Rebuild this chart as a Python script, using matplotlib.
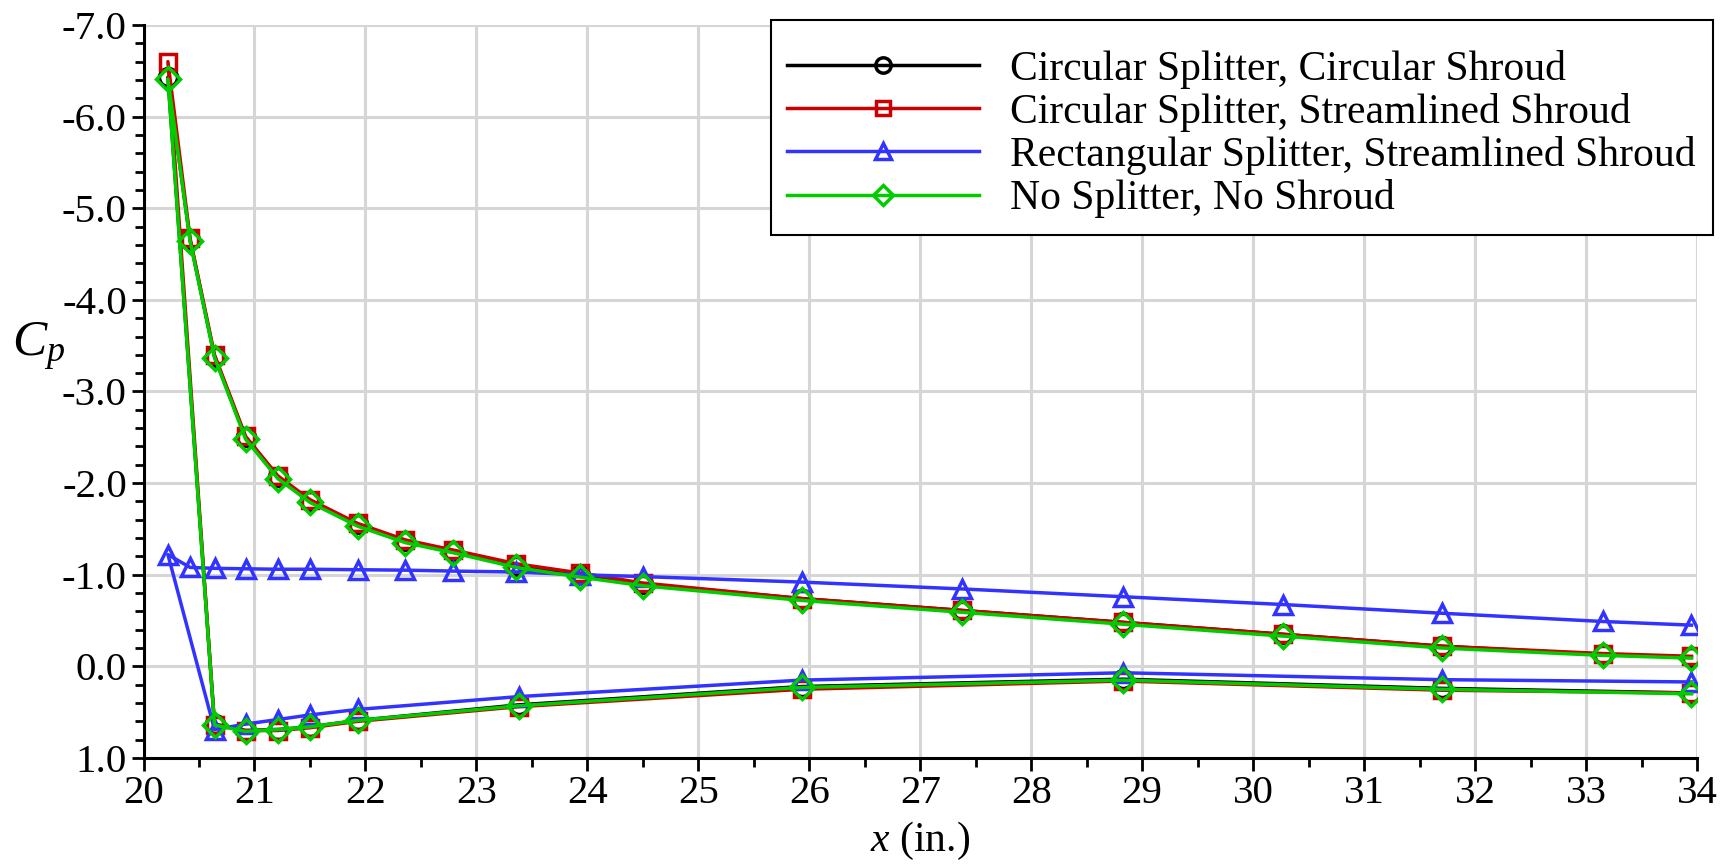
import matplotlib
matplotlib.use("Agg")
import matplotlib.pyplot as plt
from matplotlib.ticker import MultipleLocator, FormatStrFormatter

plt.rcParams["font.family"] = ["Liberation Serif", "DejaVu Serif"]
plt.rcParams["mathtext.fontset"] = "custom"
plt.rcParams["mathtext.rm"] = "Liberation Serif"
plt.rcParams["mathtext.it"] = "Liberation Serif:italic"
plt.rcParams["axes.unicode_minus"] = False

# Pressure-tap stations: lower surface (aft -> nose), nose tap, upper surface (nose -> aft)
x_taps = [33.95, 31.70, 28.83, 25.93, 23.38, 21.93, 21.50, 21.21, 20.92, 20.64,
          20.22,
          20.42, 20.64, 20.92, 21.21, 21.50, 21.93, 22.36, 22.79, 23.36, 23.93,
          24.50, 25.93, 27.38, 28.83, 30.27, 31.70, 33.15, 33.95]

cp_circ_circ = [0.29, 0.24, 0.14, 0.22, 0.42, 0.59, 0.66, 0.69, 0.70, 0.63,
                -6.43,
                -4.65, -3.38, -2.50, -2.07, -1.80, -1.55, -1.37, -1.26, -1.10, -1.00,
                -0.90, -0.74, -0.61, -0.48, -0.35, -0.22, -0.13, -0.10]

cp_circ_stream = [0.29, 0.26, 0.16, 0.25, 0.44, 0.60, 0.67, 0.70, 0.70, 0.64,
                  -6.60,
                  -4.67, -3.40, -2.51, -2.08, -1.82, -1.56, -1.38, -1.27, -1.12, -1.02,
                  -0.91, -0.74, -0.61, -0.48, -0.35, -0.22, -0.14, -0.11]

cp_rect_stream = [0.17, 0.145, 0.07, 0.15, 0.33, 0.47, 0.53, 0.58, 0.63, 0.69,
                  -1.22,
                  -1.08, -1.07, -1.065, -1.06, -1.06, -1.055, -1.05, -1.04, -1.03, -1.00,
                  -0.98, -0.92, -0.845, -0.76, -0.675, -0.58, -0.49, -0.45]

cp_none = [0.30, 0.25, 0.15, 0.23, 0.43, 0.59, 0.66, 0.69, 0.71, 0.64,
           -6.41,
           -4.64, -3.37, -2.48, -2.05, -1.79, -1.53, -1.35, -1.24, -1.08, -0.975,
           -0.88, -0.72, -0.59, -0.46, -0.33, -0.20, -0.12, -0.09]

labels = ["Circular Splitter, Circular Shroud",
          "Circular Splitter, Streamlined Shroud",
          "Rectangular Splitter, Streamlined Shroud",
          "No Splitter, No Shroud"]
series = [cp_circ_circ, cp_circ_stream, cp_rect_stream, cp_none]
colors = ["#000000", "#CC0000", "#3333FF", "#00CC00"]
markers = ["o", "s", "^", "D"]
msizes = [13, 11.5, 13.5, 12]

x_ticks = list(range(20, 35))
y_ticks = [1.0, 0.0, -1.0, -2.0, -3.0, -4.0, -5.0, -6.0, -7.0]

fig = plt.figure(figsize=(17.3, 8.64), dpi=100)
ax = fig.add_axes([0.08295, 0.12269, 0.98092 - 0.08295, 0.97106 - 0.12269])

for cp, lab, c, m, ms in zip(series, labels, colors, markers, msizes):
    ax.plot(x_taps, cp, color=c, lw=2.5, marker=m, ms=ms, mfc="none",
            mec=c, mew=2.5, label=lab)

ax.set_xlim(20, 34)
ax.set_ylim(1.0, -7.0)
ax.set_xticks(x_ticks)
ax.set_yticks(y_ticks)
ax.xaxis.set_minor_locator(MultipleLocator(0.5))
ax.yaxis.set_minor_locator(MultipleLocator(0.2))
ax.yaxis.set_major_formatter(FormatStrFormatter("%.1f"))

ax.grid(True, which="major", color="#D6D6D6", lw=2.2)
ax.set_axisbelow(True)
for s in ("top", "right"):
    ax.spines[s].set_visible(False)
for s in ("left", "bottom"):
    ax.spines[s].set_linewidth(2.2)

ax.tick_params(which="major", direction="out", length=9, width=2.0,
               labelsize=29.5, pad=3)
ax.tick_params(which="minor", direction="out", length=6.5, width=2.0)

ax.set_xlabel("$x$ (in.)", fontsize=30, labelpad=6)
fig.text(0.007, 0.598, "$C_p$", fontsize=37, ha="left", va="center")

leg = ax.legend(loc="upper right", bbox_to_anchor=(0.990, 0.977),
                bbox_transform=fig.transFigure, borderaxespad=0,
                fontsize=30, frameon=True, fancybox=False, framealpha=1,
                edgecolor="black", handlelength=4.6, handletextpad=0.75,
                labelspacing=0.1, borderpad=0.4, numpoints=1,
                markerscale=0.85, title=" ", title_fontsize=7)
leg.get_frame().set_linewidth(1.5)

fig.savefig("out.png", dpi=100)
